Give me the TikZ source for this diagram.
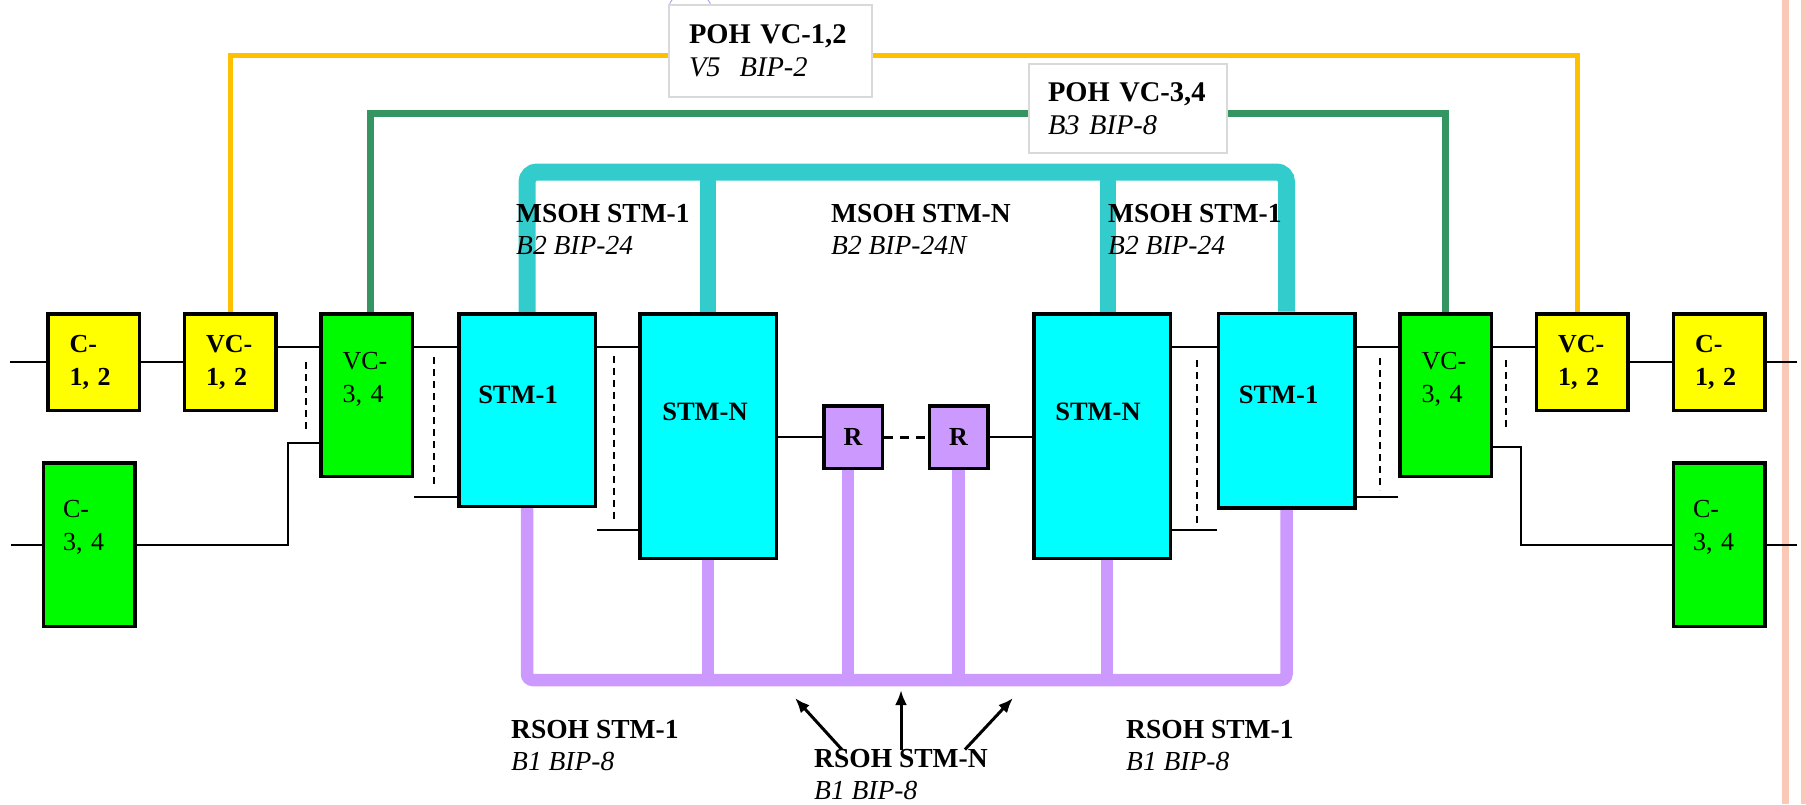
\documentclass[tikz,border=0pt]{standalone}
\usepackage{fontspec}
\setmainfont{Liberation Serif}
\usetikzlibrary{arrows.meta,backgrounds}

\definecolor{amarelo}{RGB}{255,255,0}
\definecolor{verde}{RGB}{0,250,0}
\definecolor{ciano}{RGB}{0,255,255}
\definecolor{lilas}{RGB}{204,153,255}
\definecolor{ouro}{RGB}{255,192,0}
\definecolor{verdemar}{RGB}{52,148,98}
\definecolor{turquesa}{RGB}{51,204,204}
\definecolor{salmao}{RGB}{250,200,182}

\begin{document}
\begin{tikzpicture}[x=1pt,y=-1pt,
cx/.style={rectangle,draw,line width=3.5pt,inner sep=0pt},
amar/.style={cx,fill=amarelo,minimum width=91.5pt,minimum height=96.5pt,
text width=48pt,align=left,font=\fontsize{26}{33}\selectfont\bfseries},
verd/.style={cx,fill=verde,minimum width=91.5pt,minimum height=162.5pt},
stm/.style={cx,fill=ciano,minimum width=136.5pt},
reg/.style={cx,fill=lilas,minimum width=58.5pt,minimum height=62.5pt,
font=\fontsize{26}{33}\selectfont\bfseries},
nome/.style={inner sep=0pt,font=\fontsize{26.5}{33}\selectfont\bfseries},
nomev/.style={inner sep=0pt,text width=48pt,align=left,
font=\fontsize{26}{33}\selectfont},
poh/.style={rectangle,draw=gray!30,line width=1.5pt,fill=white,
inner ysep=0pt,align=left,font=\fontsize{28.5}{33}\selectfont},
rot/.style={inner sep=0pt,align=left,anchor=west,
font=\fontsize{27.5}{32}\selectfont},
fio/.style={line width=2pt},
trac/.style={line width=2.2pt,dash pattern=on 7pt off 5pt},
seta/.style={line width=3pt,-{Latex[length=15pt,width=12pt]}}
]
\useasboundingbox (0,0) rectangle (1806,804);

% margem
\fill[salmao] (1782,0) rectangle (1789,804);
\fill[salmao] (1801,0) rectangle (1806,804);
\draw[blue!35,line width=1pt] (672,0) .. controls (669,4) .. (672,9);
\draw[blue!35,line width=1pt] (708,0) .. controls (711,4) .. (708,9);

% caixas
\node[amar] (c12l) at (93.5,362) {C-\\1, 2};
\node[amar] (vc12l) at (230,362) {VC-\\1, 2};
\node[verd,label={[nomev,yshift=16pt]center:{VC-\\3, 4}}] (vc34l) at (366.5,395) {};
\node[verd,minimum height=163.5pt,label={[nomev,xshift=-2pt,yshift=17pt]center:{C-\\3, 4}}] (c34l) at (89,544.5) {};
\node[stm,minimum height=192.5pt,label={[nome,xshift=-9pt,yshift=15pt]center:STM-1}] (stm1l) at (527,410) {};
\node[stm,minimum height=244.5pt,label={[nome,xshift=-3pt,yshift=24pt]center:STM-N}] (stmNl) at (708,436) {};
\node[reg] (rl) at (853,437) {R};
\node[reg] (rr) at (958.5,437) {R};
\node[stm,minimum height=244.5pt,label={[nome,xshift=-4pt,yshift=24pt]center:STM-N}] (stmNr) at (1102,436) {};
\node[stm,minimum height=194.5pt,label={[nome,xshift=-8pt,yshift=16pt]center:STM-1}] (stm1r) at (1286.5,410.5) {};
\node[verd,label={[nomev,yshift=16pt]center:{VC-\\3, 4}}] (vc34r) at (1445.5,395) {};
\node[amar] (vc12r) at (1582,362) {VC-\\1, 2};
\node[amar] (c12r) at (1719,362) {C-\\1, 2};
\node[verd,minimum height=163.5pt,label={[nomev,xshift=-2pt,yshift=17pt]center:{C-\\3, 4}}] (c34r) at (1719,544.5) {};

% cabecalhos
\begin{pgfonlayer}{background}
\coordinate (yPohA) at (0,55);
\coordinate (yPohB) at (0,113);
\coordinate (yMs) at (0,172);
\coordinate (yRs) at (0,680);
\coordinate (pA) at ([xshift=-5pt]vc12r.north);
\coordinate (gL) at ([xshift=3.5pt]vc34l.north);
\coordinate (cN) at ([xshift=6pt]stmNr.north);
\coordinate (rN) at ([xshift=5pt]stmNr.south);
\coordinate (rR) at ([xshift=-5pt]rl.south);
\draw[ouro,line width=5pt] (vc12l.north) -- (vc12l.north |- yPohA)
  -- (pA |- yPohA) -- (pA);
\draw[verdemar,line width=7pt] (gL) -- (gL |- yPohB)
  -- (vc34r.north |- yPohB) -- (vc34r.north);
\draw[turquesa,line width=17pt,rounded corners=10pt] (stm1l.north)
  -- (stm1l.north |- yMs) -- (stm1r.north |- yMs) -- (stm1r.north);
\draw[turquesa,line width=16pt] (stmNl.north) -- (stmNl.north |- yMs);
\draw[turquesa,line width=16pt] (cN) -- (cN |- yMs);
\draw[lilas,line width=12.5pt,rounded corners=6pt] (stm1l.south)
  -- (stm1l.south |- yRs) -- (stm1r.south |- yRs) -- (stm1r.south);
\draw[lilas,line width=12.5pt] (stmNl.south) -- (stmNl.south |- yRs);
\draw[lilas,line width=12.5pt] (rR) -- (rR |- yRs);
\draw[lilas,line width=12.5pt] (rr.south) -- (rr.south |- yRs);
\draw[lilas,line width=12.5pt] (rN) -- (rN |- yRs);
\end{pgfonlayer}

% ligacoes
\coordinate (trilho) at (0,347);
\coordinate (baixoA) at (0,497);
\coordinate (baixoB) at (0,530);
\draw[fio] (c12l.west) -- ++(-36,0);
\draw[fio] (c34l.west) -- ++(-31,0);
\draw[fio] (c12l) -- (vc12l);
\draw[fio] (vc12l.east |- trilho) -- (vc34l.west |- trilho);
\draw[fio] (c34l.east) -| ([xshift=-31pt,yshift=-48pt]vc34l.west) -- ([yshift=-48pt]vc34l.west);
\draw[fio] (vc34l.east |- trilho) -- (stm1l.west |- trilho);
\draw[fio] (vc34l.east |- baixoA) -- (stm1l.west |- baixoA);
\draw[fio] (stm1l.east |- trilho) -- (stmNl.west |- trilho);
\draw[fio] (stm1l.east |- baixoB) -- (stmNl.west |- baixoB);
\draw[fio] (stmNl.east |- rl.west) -- (rl.west);
\draw[line width=3pt,dash pattern=on 9pt off 7pt] (rl) -- (rr);
\draw[fio] (rr.east) -- (stmNr.west |- rr.east);
\draw[fio] (stmNr.east |- trilho) -- (stm1r.west |- trilho);
\draw[fio] (stmNr.east |- baixoB) -- (stm1r.west |- baixoB);
\draw[fio] (stm1r.east |- trilho) -- (vc34r.west |- trilho);
\draw[fio] (stm1r.east |- baixoA) -- (vc34r.west |- baixoA);
\draw[fio] (vc34r.east |- trilho) -- (vc12r.west |- trilho);
\draw[fio] ([yshift=-52pt]vc34r.east) -| ([xshift=-151pt]c34r.west) -- (c34r.west);
\draw[fio] (vc12r) -- (c12r);
\draw[fio] (c12r.east) -- ++(30,0);
\draw[fio] (c34r.east) -- ++(30,0);

% tracejados
\foreach \x/\a/\b in {306/362/430,434/357/487,614/356/521,
  1197/360/523,1380/358/490,1506/360/427}
  \draw[trac] (\x,\a) -- (\x,\b);

% rotulos
\node[poh,text width=163pt,inner xsep=20pt,minimum height=92pt] (pohA)
  at (770.5,51) {\textbf{POH VC-1,2}\\\textit{V5\ \ BIP-2}};
\node[poh,text width=160pt,inner xsep=19pt,minimum height=89pt] (pohB)
  at (1128,108.5) {\textbf{POH VC-3,4}\\\textit{B3 BIP-8}};
\node[rot] (msohA) at (516,229) {\textbf{MSOH STM-1}\\\textit{B2 BIP-24}};
\node[rot] (msohN) at (831,229) {\textbf{MSOH STM-N}\\\textit{B2 BIP-24N}};
\node[rot] (msohB) at (1108,229) {\textbf{MSOH STM-1}\\\textit{B2 BIP-24}};
\node[rot] (rsohA) at (511,746) {\textbf{RSOH STM-1}\\\textit{B1 BIP-8}};
\node[rot] (rsohN) at (814,775) {\textbf{RSOH STM-N}\\\textit{B1 BIP-8}};
\node[rot] (rsohB) at (1126,746) {\textbf{RSOH STM-1}\\\textit{B1 BIP-8}};

% setas
\coordinate (sE) at (795,698);
\coordinate (sM) at (901,690);
\coordinate (sD) at (1013,698);
\draw[seta] ([xshift=-59pt]rsohN.north) -- (sE);
\draw[seta] (sM |- rsohN.north) -- (sM);
\draw[seta] ([xshift=64pt]rsohN.north) -- (sD);

\end{tikzpicture}
\end{document}
